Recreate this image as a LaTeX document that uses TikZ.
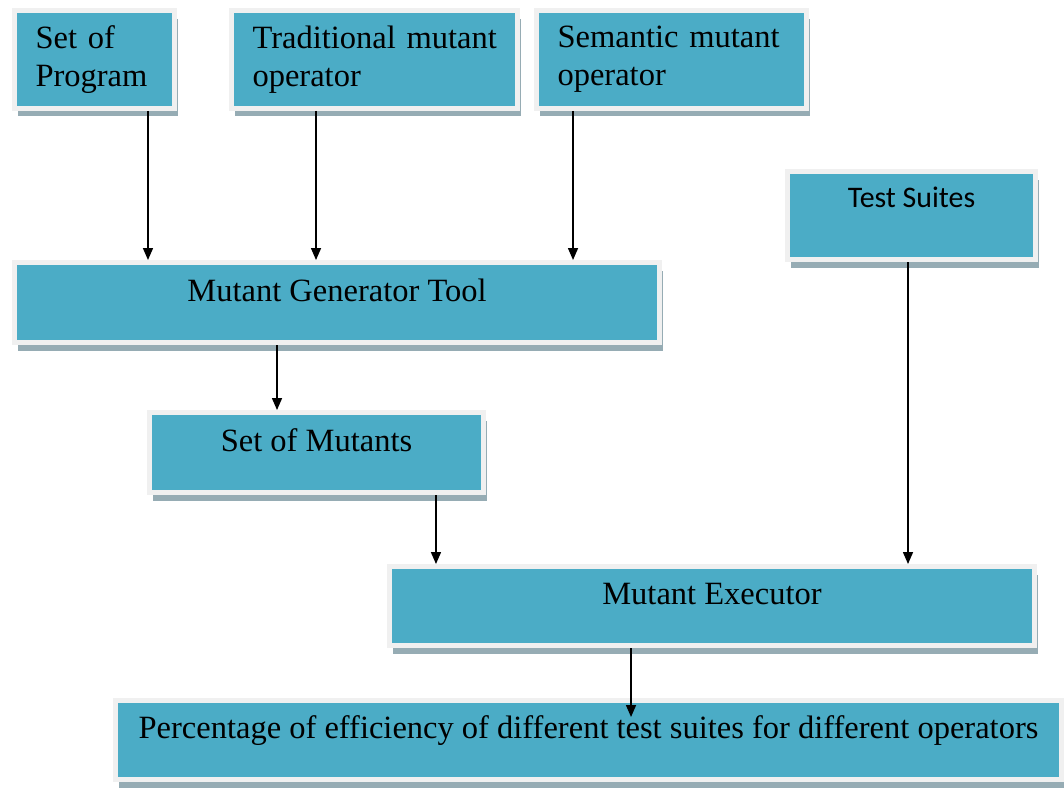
\documentclass[tikz,border=0pt]{standalone}
\usepackage{fontspec}
\setmainfont{Liberation Serif}
\newfontfamily\calibrifont{Carlito}
\definecolor{boxteal}{RGB}{75, 172, 198}
\definecolor{rimgray}{RGB}{240, 240, 240}
\definecolor{shadegray}{RGB}{150, 172, 180}
\usetikzlibrary{arrows.meta, positioning, calc, shadows}

\begin{document}
\begin{tikzpicture}[x=0.02cm, y=-0.02cm,
    blockbox/.style={draw=rimgray, line width=0.1cm, fill=boxteal, inner xsep=0.42cm, inner ysep=0pt,
      font=\fontsize{18.5}{21.5}\selectfont,
      drop shadow={shadow xshift=0.07cm, shadow yshift=-0.16cm, fill=shadegray, opacity=1}},
    toptext/.style={text depth=0.5cm, align=center},
    flow/.style={-{Triangle[width=0.2cm, length=0.24cm]}, line width=0.03cm, black}]
  \useasboundingbox (0,0) rectangle (1064,789);

  % Inputs
  \node[blockbox, minimum width=3.2cm, minimum height=1.96cm, text width=2.36cm, align=left] (prog) at (94.5, 59.5) {Set of\\Program};
  \node[blockbox, minimum width=5.72cm, minimum height=1.96cm, text width=4.88cm, align=left] (trad) at (374.5, 59.5) {\mbox{Traditional mutant}\\operator};
  \node[blockbox, minimum width=5.4cm, minimum height=1.96cm, text width=4.56cm, align=left] (sem) at (671.5, 59.5) {\mbox{Semantic mutant}\\operator};
  \node[blockbox, minimum width=4.96cm, minimum height=1.76cm, text depth=0.72cm, font=\calibrifont\fontsize{17}{20}\selectfont] (suites) at (911.5, 215.5) {Test Suites};

  % Generator and mutants
  \node[blockbox, toptext, minimum width=12.9cm, minimum height=1.6cm] (gen) at (337, 302.5) {Mutant Generator Tool};
  \node[blockbox, toptext, minimum width=6.68cm, minimum height=1.6cm] (mut) at (316.5, 452.5) {Set of Mutants};

  % Execution and result
  \node[blockbox, toptext, minimum width=12.9cm, minimum height=1.58cm] (exec) at (712, 606) {Mutant Executor};
  \node[blockbox, toptext, minimum width=18.92cm, minimum height=1.58cm] (perc) at (588.5, 740) {Percentage of efficiency of different test suites for different operators};

  \draw[flow] ([xshift=1.07cm]prog.south) -- ([xshift=1.07cm]prog.south |- gen.north);
  \draw[flow] ([xshift=-1.17cm]trad.south) -- ([xshift=-1.17cm]trad.south |- gen.north);
  \draw[flow] ([xshift=-1.97cm]sem.south) -- ([xshift=-1.97cm]sem.south |- gen.north);
  \draw[flow] ([xshift=-0.07cm]suites.south) -- ([xshift=-0.07cm]suites.south |- exec.north);
  \draw[flow] ([xshift=-1.2cm]gen.south) -- ([xshift=-1.2cm]gen.south |- mut.north);
  \draw[flow] ([xshift=2.39cm]mut.south) -- ([xshift=2.39cm]mut.south |- exec.north);
  \draw[flow, shorten >=-0.38cm] ([xshift=-1.62cm]exec.south) -- ([xshift=-1.62cm]exec.south |- perc.north);
\end{tikzpicture}
\end{document}
